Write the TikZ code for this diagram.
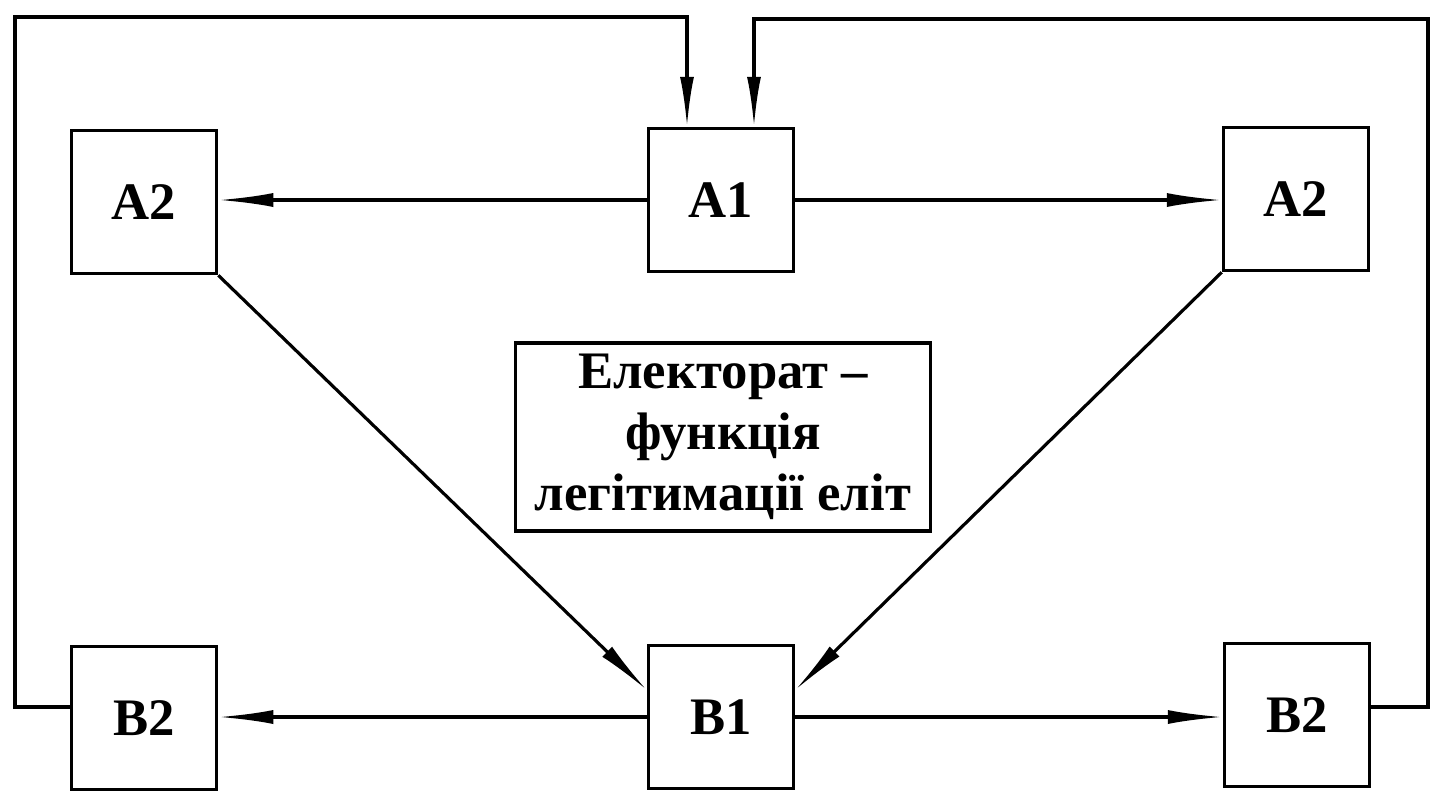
\documentclass[tikz,border=0pt]{standalone}
\usepackage{fontspec}
\setmainfont{Liberation Serif}
\usetikzlibrary{arrows.meta}

\begin{document}
\begin{tikzpicture}[box/.style={draw,line width=1pt,minimum width=1.45cm,minimum height=1.43cm,
      inner sep=0pt,font=\fontsize{15}{17.3}\selectfont\bfseries},
   link/.style={line width=0.9pt,-{Latex[length=5.5mm,width=1.4mm]}},
   loopline/.style={line width=0.9pt,-{Latex[length=5mm,width=1.4mm]}}]
   \useasboundingbox (0,0) rectangle (14.31,-7.93);
   % fixed points
   \node[box] (aone)  at (7.21,-2.00)  {А1};
   \node[box] (atwol) at (1.44,-2.02)  {А2};
   \node[box] (atwor) at (12.96,-1.99) {А2};
   \node[box] (bone)  at (7.21,-7.17)  {В1};
   \node[box] (btwol) at (1.44,-7.18)  {В2};
   \node[box] (btwor) at (12.97,-7.15) {В2};
   \node[box,align=center,minimum width=4.15cm,minimum height=1.88cm] (elect) at (7.23,-4.37)
      {Електорат --\\функція\\легітимації еліт};
   \coordinate (lcorner) at (0.15,-0.17);
   \coordinate (rcorner) at (14.28,-0.19);
   % links
   \draw[link] (aone.west) -- (atwol.east|-aone.west);
   \draw[link] (aone.east) -- (atwor.west|-aone.east);
   \draw[link] (bone.west) -- (btwol.east|-bone.west);
   \draw[link] (bone.east) -- (btwor.west|-bone.east);
   \draw[link] (atwol.south east) -- ([yshift=2.7mm]bone.west);
   \draw[link] (atwor.south west) -- ([yshift=2.7mm]bone.east);
   % feedback
   \draw[loopline] ([yshift=1.1mm]btwol.west) -| (lcorner) -| ([xshift=-3.4mm]aone.north);
   \draw[loopline] ([yshift=0.8mm]btwor.east) -| (rcorner) -| ([xshift=3.3mm]aone.north);
\end{tikzpicture}
\end{document}
